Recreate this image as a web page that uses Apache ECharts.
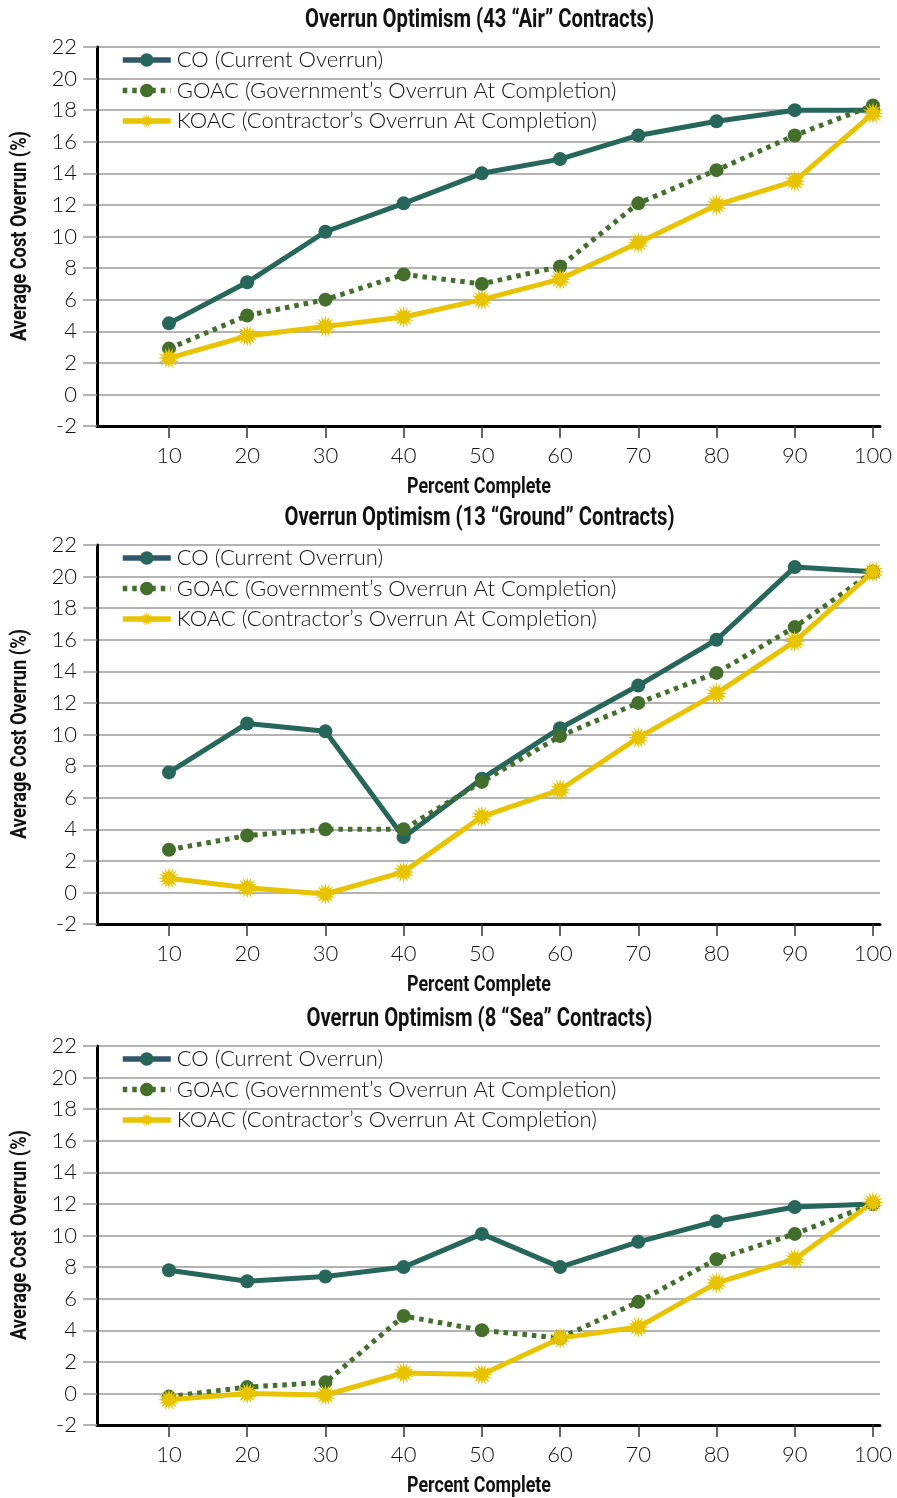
<!DOCTYPE html>
<html>
<head>
<meta charset="utf-8">
<script src="https://cdn.jsdelivr.net/npm/echarts@6/dist/echarts.min.js"></script>
<style>
  html, body { margin: 0; padding: 0; background: #fff; }
  #wrap { position: relative; width: 897px; height: 1498px; }
  .panel { position: absolute; left: 0; width: 897px; height: 499px; }
</style>
</head>
<body>
<div id="wrap">
  <div class="panel" id="air" style="top:0px"></div>
  <div class="panel" id="ground" style="top:498px"></div>
  <div class="panel" id="sea" style="top:999px"></div>
</div>
<script>
// Percent of contract completed (x axis ticks)
const percentComplete = [10, 20, 30, 40, 50, 60, 70, 80, 90, 100];

// Y axis tick range (average cost overrun, %)
const yMin = -2;
const yMax = 22;
const yStep = 2;

// Series labels
const seriesNames = [
  'CO (Current Overrun)',
  'GOAC (Government\u2019s Overrun At Completion)',
  'KOAC (Contractor\u2019s Overrun At Completion)'
];

// Panel titles
const titleAir = 'Overrun Optimism (43 \u201CAir\u201D Contracts)';
const titleGround = 'Overrun Optimism (13 \u201CGround\u201D Contracts)';
const titleSea = 'Overrun Optimism (8 \u201CSea\u201D Contracts)';
const xAxisTitle = 'Percent Complete';
const yAxisTitle = 'Average Cost Overrun (%)';

// Air contracts
const airCO   = [4.5, 7.1, 10.3, 12.1, 14.0, 14.9, 16.4, 17.3, 18.0, 18.0];
const airGOAC = [2.9, 5.0, 6.0, 7.6, 7.0, 8.1, 12.1, 14.2, 16.4, 18.3];
const airKOAC = [2.3, 3.7, 4.3, 4.9, 6.0, 7.3, 9.6, 12.0, 13.5, 17.8];

// Ground contracts
const groundCO   = [7.6, 10.7, 10.2, 3.5, 7.2, 10.4, 13.1, 16.0, 20.6, 20.3];
const groundGOAC = [2.7, 3.6, 4.0, 4.0, 7.0, 9.9, 12.0, 13.9, 16.8, 20.3];
const groundKOAC = [0.9, 0.3, -0.1, 1.3, 4.8, 6.5, 9.8, 12.6, 15.9, 20.3];

// Sea contracts
const seaCO   = [7.8, 7.1, 7.4, 8.0, 10.1, 8.0, 9.6, 10.9, 11.8, 12.0];
const seaGOAC = [-0.2, 0.4, 0.7, 4.9, 4.0, 3.5, 5.8, 8.5, 10.1, 12.0];
const seaKOAC = [-0.4, 0.0, -0.1, 1.3, 1.2, 3.5, 4.2, 7.0, 8.5, 12.1];

// ---- styling ----
const COLOR_CO = '#27665a';
const COLOR_CO_KEY = '#2f5769';
const COLOR_GOAC = '#436e2c';
const COLOR_KOAC = '#e8c300';
const GRID_COLOR = '#9a9a9a';
const TEXT_COLOR = '#111';
const LIGHT_FONT = 'Lato, "Open Sans", sans-serif';
const BOLD_FONT = 'Roboto, "Liberation Sans", sans-serif';

// Sunburst marker path for the contractor series
function burstPath(spikes, rOut, rIn) {
  const c = rOut;
  let d = '';
  for (let i = 0; i < spikes * 2; i++) {
    const r = i % 2 === 0 ? rOut : rIn;
    const a = Math.PI * i / spikes - Math.PI / 2;
    const px = (c + r * Math.cos(a)).toFixed(2);
    const py = (c + r * Math.sin(a)).toFixed(2);
    d += (i === 0 ? 'M' : 'L') + px + ' ' + py + ' ';
  }
  return 'path://' + d + 'Z';
}
const BURST = burstPath(16, 10, 5.4);

// Horizontal squeeze so the bold headings read as a condensed face
const measureCtx = document.createElement('canvas').getContext('2d');
function squeeze(text, font, targetWidth) {
  measureCtx.font = font;
  return targetWidth / measureCtx.measureText(text).width;
}
const TITLE_FONT = 'bold 25px ' + BOLD_FONT;
const NAME_FONT = 'bold 22px ' + BOLD_FONT;
const titleScale = squeeze(titleAir, TITLE_FONT, 349);
const xNameScale = squeeze(xAxisTitle, NAME_FONT, 144);
const yNameScale = squeeze(yAxisTitle, NAME_FONT, 210);

function pairs(values) {
  return values.map((v, i) => [percentComplete[i], v]);
}

function buildPanel(id, title, co, goac, koac) {
  const chart = echarts.init(document.getElementById(id), null, { renderer: 'canvas' });
  chart.setOption({
    animation: false,
    backgroundColor: '#fff',
    graphic: [
      {
        type: 'text', x: 479.5, y: 20.5, scaleX: titleScale,
        style: { text: title, font: TITLE_FONT, fill: '#111', align: 'center', verticalAlign: 'middle' }
      },
      {
        type: 'text', x: 479, y: 487, scaleX: xNameScale,
        style: { text: xAxisTitle, font: NAME_FONT, fill: '#111', align: 'center', verticalAlign: 'middle' }
      },
      {
        type: 'text', x: 20, y: 236, rotation: Math.PI / 2, scaleX: yNameScale,
        style: { text: yAxisTitle, font: NAME_FONT, fill: '#111', align: 'center', verticalAlign: 'middle' }
      }
    ],
    legend: {
      orient: 'vertical',
      left: 120,
      top: 49,
      padding: 0,
      itemGap: 8.5,
      itemWidth: 48,
      itemHeight: 17,
      lineStyle: { width: 5.5 },
      textStyle: {
        fontFamily: LIGHT_FONT, fontWeight: 300, fontSize: 22, color: TEXT_COLOR,
        lineHeight: 22, padding: [0, 0, 0, 1]
      },
      data: [
        { name: seriesNames[0], lineStyle: { color: COLOR_CO_KEY } },
        { name: seriesNames[1] },
        { name: seriesNames[2] }
      ]
    },
    grid: { left: 97, right: 17, top: 47, height: 379, containLabel: false },
    xAxis: {
      type: 'value',
      min: 0.8,
      max: 100.9,
      axisLine: { show: true, onZero: false, lineStyle: { color: '#000', width: 3 } },
      axisTick: { show: true, customValues: percentComplete, length: 12, lineStyle: { color: '#333', width: 1.5 } },
      axisLabel: {
        customValues: percentComplete, margin: 19,
        fontFamily: LIGHT_FONT, fontWeight: 300, fontSize: 22, color: TEXT_COLOR
      },
      splitLine: { show: false }
    },
    yAxis: {
      type: 'value',
      min: yMin,
      max: yMax,
      interval: yStep,
      axisLine: { show: true, lineStyle: { color: '#000', width: 3 } },
      axisTick: { show: true, length: 14, lineStyle: { color: GRID_COLOR, width: 1.5 } },
      axisLabel: { margin: 20, fontFamily: LIGHT_FONT, fontWeight: 300, fontSize: 22, color: TEXT_COLOR },
      splitLine: { show: true, lineStyle: { color: GRID_COLOR, width: 1.5 } }
    },
    series: [
      {
        name: seriesNames[0], type: 'line', data: pairs(co),
        symbol: 'circle', symbolSize: 14, showAllSymbol: true,
        lineStyle: { color: COLOR_CO, width: 5 },
        itemStyle: { color: COLOR_CO }
      },
      {
        name: seriesNames[1], type: 'line', data: pairs(goac),
        symbol: 'circle', symbolSize: 14, showAllSymbol: true,
        lineStyle: { color: COLOR_GOAC, width: 5, type: [4.5, 5] },
        itemStyle: { color: COLOR_GOAC }
      },
      {
        name: seriesNames[2], type: 'line', data: pairs(koac),
        symbol: BURST, symbolSize: 22, showAllSymbol: true,
        lineStyle: { color: COLOR_KOAC, width: 5 },
        itemStyle: { color: COLOR_KOAC }
      }
    ]
  });
  return chart;
}

buildPanel('air', titleAir, airCO, airGOAC, airKOAC);
buildPanel('ground', titleGround, groundCO, groundGOAC, groundKOAC);
buildPanel('sea', titleSea, seaCO, seaGOAC, seaKOAC);
</script>
</body>
</html>
